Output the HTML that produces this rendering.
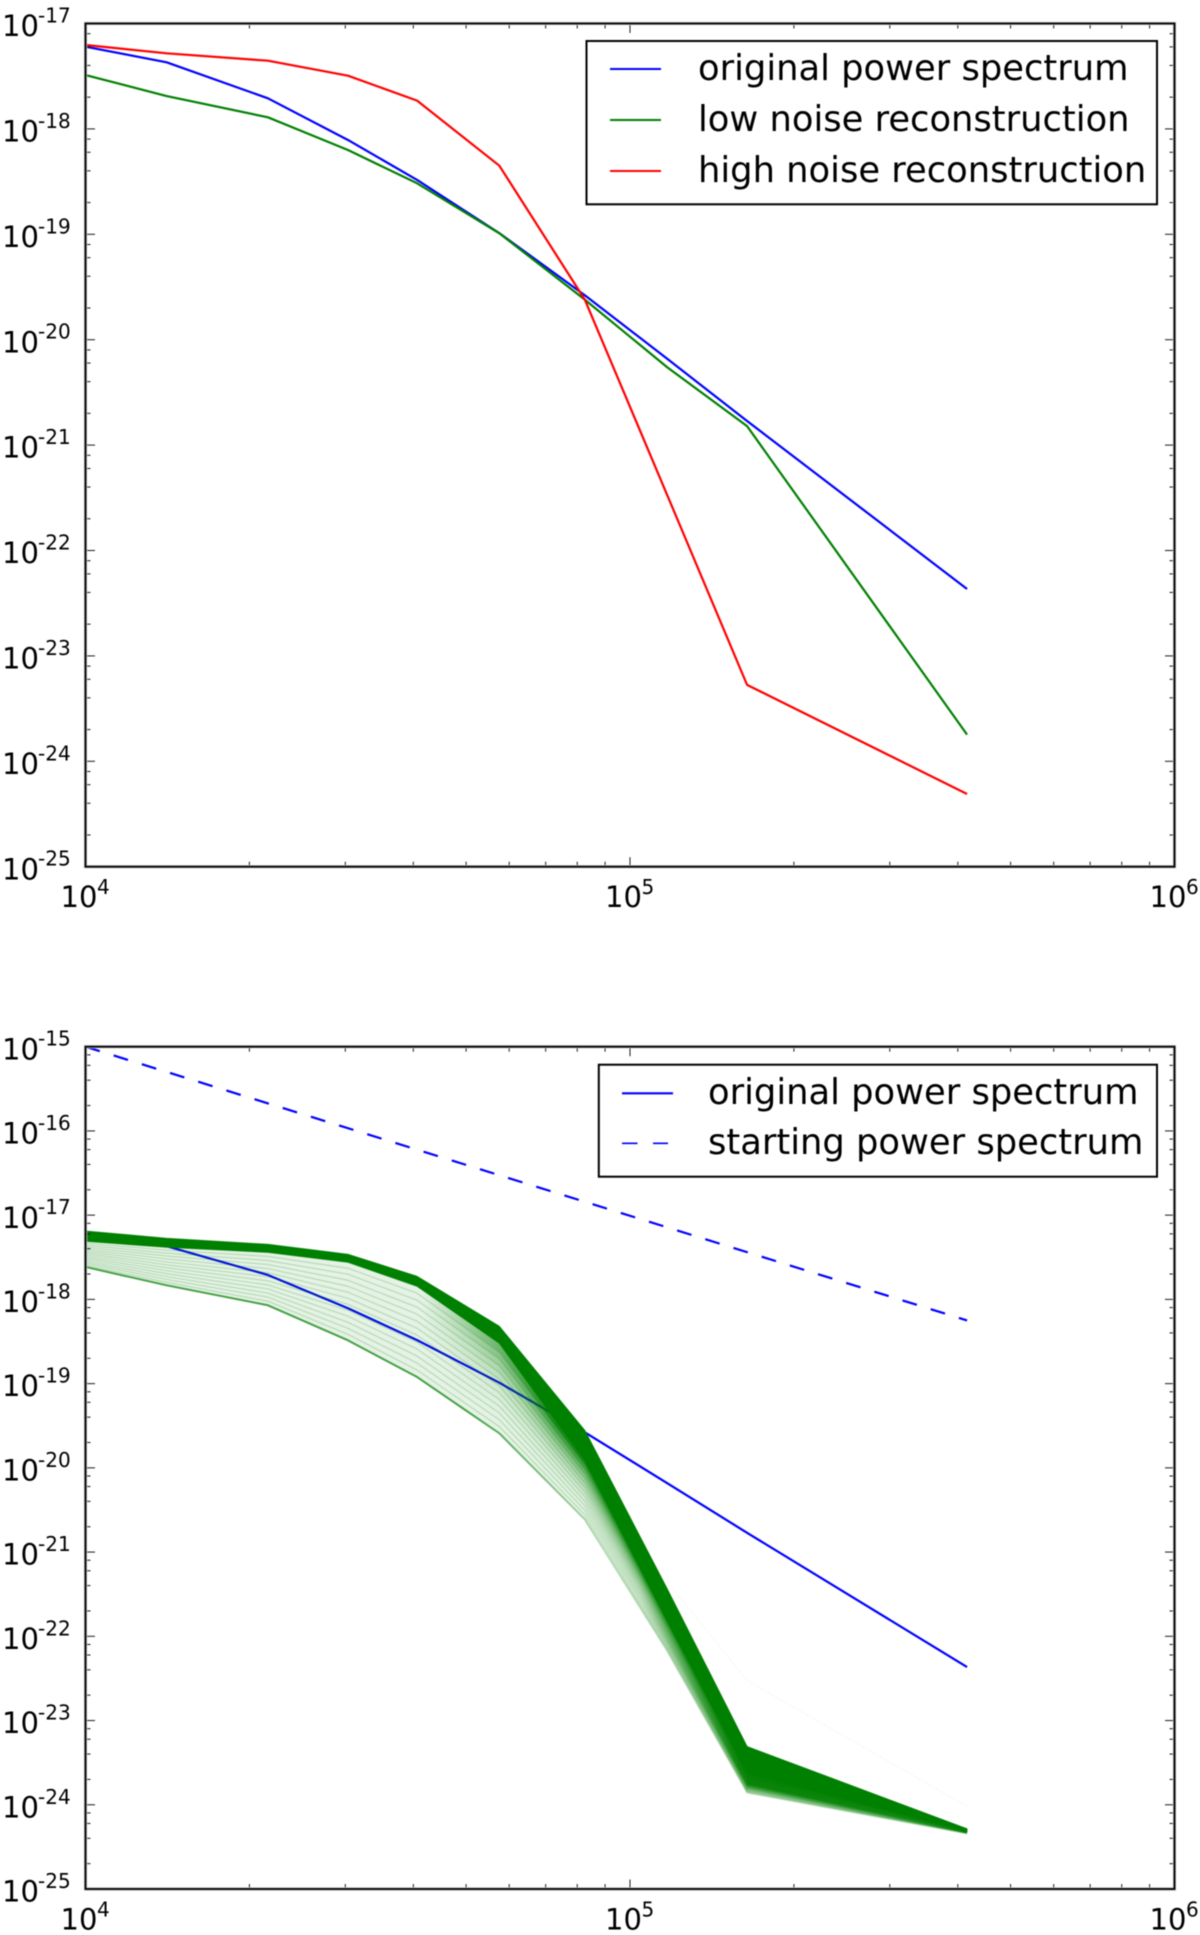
<!DOCTYPE html>
<html lang="en">
<head>
<meta charset="utf-8">
<title>Power spectrum reconstruction charts</title>
<style>
  html, body { margin: 0; padding: 0; background: #ffffff; }
  svg { display: block; filter: blur(0.5px); }
  text { font-family: "DejaVu Sans", "Liberation Sans", sans-serif; fill: #000000; }
</style>
</head>
<body>
<svg id="figure" xmlns="http://www.w3.org/2000/svg" width="1200" height="1935" viewBox="0 0 1200 1935">
  <rect x="0" y="0" width="1200" height="1935" fill="#ffffff"/>
  <g id="top-chart"></g>
  <g id="bottom-chart"></g>

  <g>
    <rect x="586.5" y="41" width="570.5" height="163.3" fill="#ffffff" stroke="#000000" stroke-width="2"/>
    <line x1="610" y1="69" x2="661" y2="69" stroke="#0000ff" stroke-width="2"/>
    <text x="698" y="80" font-size="35.3">original power spectrum</text>
    <line x1="610" y1="120" x2="661" y2="120" stroke="#008000" stroke-width="2"/>
    <text x="698" y="131" font-size="35.3">low noise reconstruction</text>
    <line x1="610" y1="171" x2="661" y2="171" stroke="#ff0000" stroke-width="2"/>
    <text x="698" y="182" font-size="35.3">high noise reconstruction</text>
  </g>

  <g>
    <rect x="598.8" y="1064.7" width="558.2" height="112" fill="#ffffff" stroke="#000000" stroke-width="2"/>
    <line x1="622" y1="1093.3" x2="673" y2="1093.3" stroke="#0000ff" stroke-width="2.2"/>
    <text x="708" y="1104" font-size="35.3">original power spectrum</text>
    <line x1="622" y1="1143.3" x2="668" y2="1143.3" stroke="#0000ff" stroke-width="1.6" stroke-dasharray="15.5 15.5"/>
    <text x="708" y="1154" font-size="35.3">starting power spectrum</text>
  </g>
</svg>

<script>
// ---- Data (all power values are log10 of the spectrum, k values are log10 of k) ----
const kLog = [4.0, 4.149, 4.335, 4.482, 4.609, 4.76, 4.917, 5.068, 5.215, 5.619];
const originalPower = [-17.22, -17.368, -17.71, -18.105, -18.484, -18.989, -19.578, -20.18, -20.771, -22.365];
const lowNoisePower = [-17.489, -17.688, -17.89, -18.2, -18.516, -18.99, -19.62, -20.26, -20.82, -23.747];
const highNoisePower = [-17.204, -17.283, -17.353, -17.495, -17.732, -18.349, -19.62, -21.47, -23.275, -24.31];
const startingK = [4.0, 5.619];
const startingPower = [-15.0, -18.25];
const faintIterationK = [5.068, 5.215, 5.619];
const faintIterationPower = [-21.348, -22.524, -24.02];
const convergedUpper = [-17.188, -17.274, -17.346, -17.464, -17.726, -18.319, -19.555, -21.431, -23.308, -24.285];
const iterationCurves = [
  [-17.615, -17.833, -18.07, -18.486, -18.922, -19.59, -20.612, -22.168, -23.854, -24.34],
  [-17.592, -17.798, -18.022, -18.415, -18.839, -19.51, -20.558, -22.141, -23.836, -24.338],
  [-17.568, -17.763, -17.973, -18.343, -18.756, -19.429, -20.504, -22.113, -23.817, -24.337],
  [-17.545, -17.729, -17.925, -18.272, -18.673, -19.349, -20.45, -22.086, -23.799, -24.335],
  [-17.521, -17.694, -17.876, -18.2, -18.59, -19.268, -20.396, -22.058, -23.781, -24.334],
  [-17.498, -17.659, -17.828, -18.129, -18.508, -19.188, -20.342, -22.031, -23.762, -24.332],
  [-17.474, -17.624, -17.78, -18.058, -18.425, -19.108, -20.288, -22.003, -23.744, -24.331],
  [-17.451, -17.59, -17.731, -17.987, -18.342, -19.027, -20.235, -21.976, -23.726, -24.329],
  [-17.427, -17.555, -17.683, -17.915, -18.259, -18.947, -20.181, -21.948, -23.707, -24.328],
  [-17.404, -17.52, -17.634, -17.844, -18.176, -18.866, -20.127, -21.921, -23.689, -24.326],
  [-17.38, -17.485, -17.586, -17.773, -18.093, -18.786, -20.073, -21.893, -23.671, -24.325],
  [-17.357, -17.451, -17.538, -17.701, -18.01, -18.706, -20.019, -21.866, -23.652, -24.323],
  [-17.333, -17.416, -17.489, -17.63, -17.927, -18.625, -19.965, -21.838, -23.634, -24.322],
  [-17.31, -17.381, -17.441, -17.559, -17.844, -18.52, -19.911, -21.811, -23.616, -24.32]
];
// ---- Tick labels ----
const xDecades = [4, 5, 6];
const xMinorMultipliers = [2, 3, 4, 5, 6, 7, 8, 9];
const yMinorMultipliers = [2, 4, 6, 8];
const topYDecades = [-17, -18, -19, -20, -21, -22, -23, -24, -25];
const bottomYDecades = [-15, -16, -17, -18, -19, -20, -21, -22, -23, -24, -25];

// ---- Axis functions ----
const SVG_NS = 'http://www.w3.org/2000/svg';
const plotLeft = 85.5;
const plotRight = 1174.5;
function xScale(logK) {
  return plotLeft + (logK - xDecades[0]) * (plotRight - plotLeft) / (xDecades[xDecades.length - 1] - xDecades[0]);
}
function makeYScale(decades, top, bottom) {
  const hi = decades[0];
  const lo = decades[decades.length - 1];
  return function (logP) { return top + (hi - logP) * (bottom - top) / (hi - lo); };
}
const yTop = makeYScale(topYDecades, 23.5, 866.7);
const yBottom = makeYScale(bottomYDecades, 1046.7, 1889);

function make(tag, parent, geometry) {
  const el = document.createElementNS(SVG_NS, tag);
  Object.keys(geometry).forEach(function (key) { el.setAttribute(key, geometry[key]); });
  parent.appendChild(el);
  return el;
}
function pointsOf(ks, values, yScale) {
  return ks.map(function (k, i) { return xScale(k).toFixed(2) + ',' + yScale(values[i]).toFixed(2); }).join(' ');
}
function bandOf(ks, upper, lower, yScale) {
  return pointsOf(ks, upper, yScale) + ' ' + pointsOf(ks.slice().reverse(), lower.slice().reverse(), yScale);
}

function drawFrame(parent, decades, yScale, top, bottom) {
  xDecades.forEach(function (d, i) {
    const xp = xScale(d);
    [[bottom, bottom - 9.5], [top, top + 9.5]].forEach(function (pair) {
      const tick = make('line', parent, { x1: xp, x2: xp, y1: pair[0], y2: pair[1], stroke: '#1a1a1a', 'stroke-width': 1 });
      
      
    });
    if (i < xDecades.length - 1) {
      xMinorMultipliers.forEach(function (m) {
        const xm = xScale(d + Math.log10(m));
        [[bottom, bottom - 5], [top, top + 5]].forEach(function (pair) {
          const tick = make('line', parent, { x1: xm, x2: xm, y1: pair[0], y2: pair[1], stroke: '#1a1a1a', 'stroke-width': 1 });
          
          
        });
      });
    }
    const label = make('text', parent, { 'font-size': 29 });
    
    
    const base = make('tspan', label, { x: xp - 25, y: bottom + 40.3 });
    base.textContent = '10';
    const sup = make('tspan', label, { x: xp + 11.5, y: bottom + 27.3, 'font-size': 20 });
    sup.textContent = String(d);
  });

  decades.forEach(function (d, i) {
    const yp = yScale(d);
    [[plotLeft, plotLeft + 9.5], [plotRight, plotRight - 9.5]].forEach(function (pair) {
      const tick = make('line', parent, { x1: pair[0], x2: pair[1], y1: yp, y2: yp, stroke: '#1a1a1a', 'stroke-width': 1 });
      
      
    });
    if (i < decades.length - 1) {
      yMinorMultipliers.forEach(function (m) {
        const ym = yScale(decades[i + 1] + Math.log10(m));
        [[plotLeft, plotLeft + 5], [plotRight, plotRight - 5]].forEach(function (pair) {
          const tick = make('line', parent, { x1: pair[0], x2: pair[1], y1: ym, y2: ym, stroke: '#1a1a1a', 'stroke-width': 1 });
          
          
        });
      });
    }
    const label = make('text', parent, { 'font-size': 29 });
    
    
    const base = make('tspan', label, { x: 2, y: yp + 12.6 });
    base.textContent = '10';
    const sup = make('tspan', label, { x: 38, y: yp - 1, 'font-size': 20 });
    sup.textContent = String(d);
  });

  const halo = make('rect', parent, { x: plotLeft, y: top, width: plotRight - plotLeft, height: bottom - top, fill: 'none', stroke: '#c4c4c4', 'stroke-width': 3.4 });
  
  
  const frame = make('rect', parent, { x: plotLeft, y: top, width: plotRight - plotLeft, height: bottom - top, fill: 'none', stroke: '#000000', 'stroke-width': 1.8 });
  
  
}

function drawLine(parent, ks, values, yScale, color, width) {
  return make('polyline', parent, { points: pointsOf(ks, values, yScale), fill: 'none', stroke: color, 'stroke-width': width, 'stroke-linejoin': 'round' });
}

// ---- Top chart ----
const topChart = document.getElementById('top-chart');
const topOriginal = drawLine(topChart, kLog, originalPower, yTop, '#0000ff', 2.2);


const topLow = drawLine(topChart, kLog, lowNoisePower, yTop, '#008000', 2.2);


const topHigh = drawLine(topChart, kLog, highNoisePower, yTop, '#ff0000', 2.2);


drawFrame(topChart, topYDecades, yTop, 23.5, 866.7);

// ---- Bottom chart ----
const bottomChart = document.getElementById('bottom-chart');
const defs = make('defs', bottomChart, {});

function addFadeMask(id, fromLogK, toLogK) {
  const gradient = make('linearGradient', defs, { id: id + '-grad', gradientUnits: 'userSpaceOnUse', x1: xScale(fromLogK), x2: xScale(toLogK), y1: 0, y2: 0 });
  make('stop', gradient, { offset: 0, 'stop-color': '#000000' });
  make('stop', gradient, { offset: 1, 'stop-color': '#ffffff' });
  const mask = make('mask', defs, { id: id, maskUnits: 'userSpaceOnUse', x: 0, y: 1000, width: 1200, height: 935 });
  make('rect', mask, { x: 0, y: 1000, width: 1200, height: 935, fill: 'url(#' + id + '-grad)' });
}
addFadeMask('fade-mid', 4.62, 4.86);
addFadeMask('fade-far', 5.02, 5.2);

const edgeGradient = make('linearGradient', defs, { id: 'edge-fade', gradientUnits: 'userSpaceOnUse', x1: xScale(4.7), x2: xScale(4.95), y1: 0, y2: 0 });
make('stop', edgeGradient, { offset: 0, 'stop-color': '#008000', 'stop-opacity': 0.72 });
make('stop', edgeGradient, { offset: 1, 'stop-color': '#008000', 'stop-opacity': 0.25 });

const bottomOriginal = drawLine(bottomChart, kLog, originalPower, yBottom, '#0000ff', 2.2);


const startingLine = drawLine(bottomChart, startingK, startingPower, yBottom, '#0000ff', 2.2);
startingLine.setAttribute('stroke-dasharray', '15 14.5');



const faintLine = drawLine(bottomChart, faintIterationK, faintIterationPower, yBottom, '#008000', 1);
faintLine.setAttribute('stroke-opacity', '0.04');



const lastCurve = iterationCurves[iterationCurves.length - 1];
const paleBand = make('polygon', bottomChart, { points: bandOf(kLog, lastCurve, iterationCurves[0], yBottom), fill: '#008000', 'fill-opacity': 0.1 });



const midLayer = make('g', bottomChart, { mask: 'url(#fade-mid)' });


const farLayer = make('g', bottomChart, { mask: 'url(#fade-far)' });



iterationCurves.forEach(function (curve, i) {
  if (i < iterationCurves.length - 1) {
    const next = iterationCurves[i + 1];
    const rank = (i + 1) / (iterationCurves.length - 1);
    const midBand = make('polygon', midLayer, { points: bandOf(kLog, next, curve, yBottom), fill: '#008000', 'fill-opacity': (rank * rank * rank * 0.9).toFixed(3) });
    
    
    const farBand = make('polygon', farLayer, { points: bandOf(kLog, next, curve, yBottom), fill: '#008000', 'fill-opacity': Math.min(1, (i + 1) / 6).toFixed(3) });
    
    
  }
  const line = drawLine(bottomChart, kLog, curve, yBottom, i === 0 ? 'url(#edge-fade)' : '#008000', i === 0 ? 2 : 1.2);
  if (i > 0) {
    line.setAttribute('stroke-opacity', '0.2');
  }
  
  
});

const convergedBand = make('polygon', bottomChart, { points: bandOf(kLog, convergedUpper, lastCurve, yBottom), fill: '#008000', stroke: '#008000', 'stroke-width': 0.8, 'stroke-linejoin': 'round' });



drawFrame(bottomChart, bottomYDecades, yBottom, 1046.7, 1889);
</script>
</body>
</html>
